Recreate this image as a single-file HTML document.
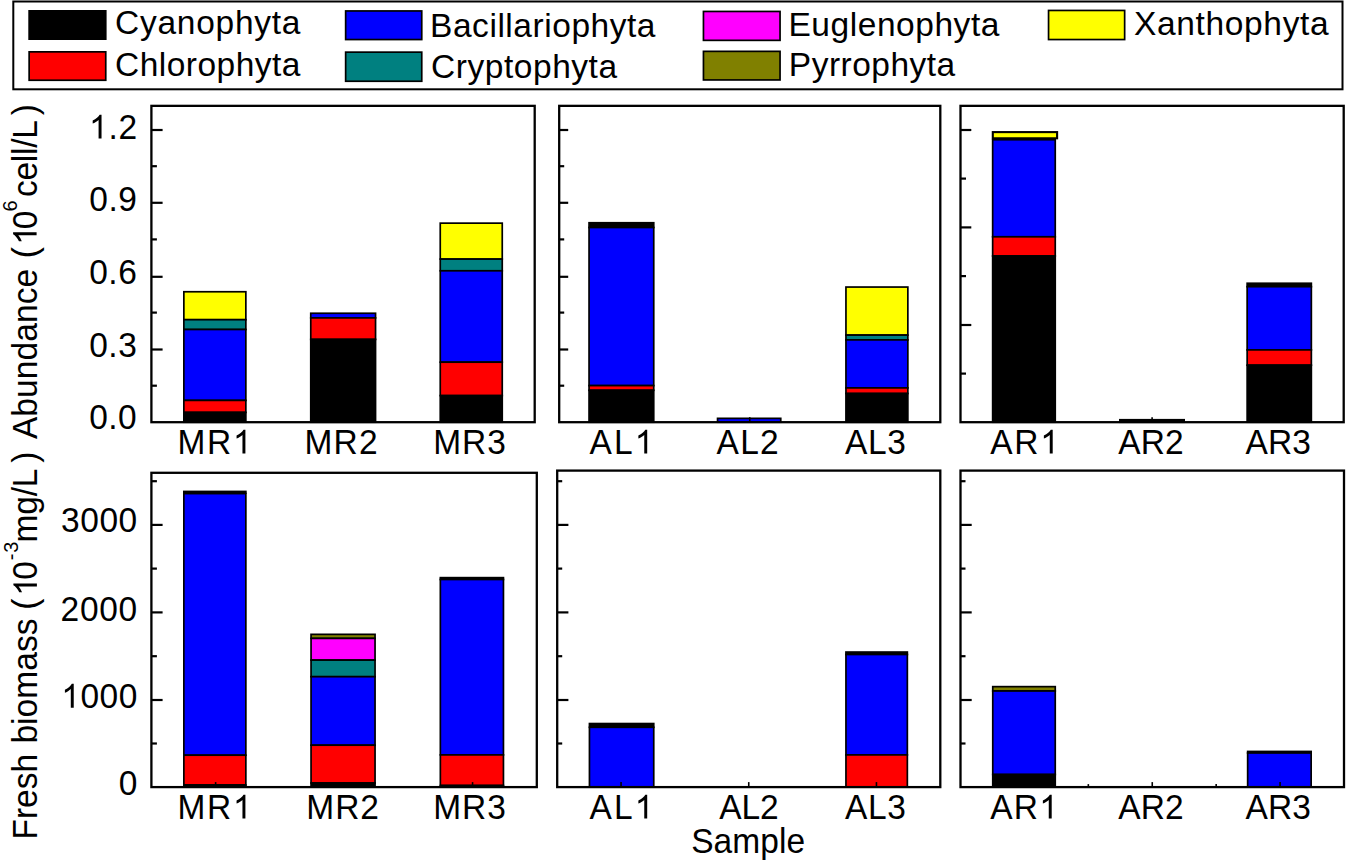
<!DOCTYPE html>
<html><head><meta charset="utf-8"><title>Phytoplankton abundance and biomass</title>
<style>
html,body{margin:0;padding:0;background:#fff;}
body{width:1346px;height:861px;overflow:hidden;}
svg{display:block;}
svg text{font-family:"Liberation Sans",sans-serif;fill:#000;font-kerning:none;}
</style></head>
<body>
<svg width="1346" height="861" viewBox="0 0 1346 861">
<rect x="0" y="0" width="1346" height="861" fill="#ffffff"/>
<rect x="13.30" y="1.50" width="1329.20" height="87.80" fill="#fff" stroke="#000" stroke-width="2.0"/>
<rect x="29.15" y="10.85" width="76.60" height="28.30" fill="#000000" stroke="#000" stroke-width="1.7"/>
<g transform="translate(0,34.40) scale(1,1.0)">
<text x="115.00 139.94 157.43 176.81 196.19 215.57 234.94 254.32 271.82 281.87" y="0" font-size="33.5">Cyanophyta</text>
</g>
<rect x="29.15" y="51.85" width="76.60" height="28.40" fill="#FF0000" stroke="#000" stroke-width="1.7"/>
<g transform="translate(0,76.40) scale(1,1.0)">
<text x="115.00 139.68 158.80 166.73 185.84 197.49 216.60 235.72 254.84 272.07 281.87" y="0" font-size="33.5">Chlorophyta</text>
</g>
<rect x="345.65" y="10.95" width="76.10" height="28.60" fill="#0000FF" stroke="#000" stroke-width="1.7"/>
<g transform="translate(0,37.00) scale(1,1.0)">
<text x="430.05 452.94 472.11 489.40 497.39 505.37 513.36 532.53 544.23 552.21 571.38 590.56 609.73 627.02 636.87" y="0" font-size="33.5">Bacillariophyta</text>
</g>
<rect x="345.65" y="52.15" width="76.10" height="29.10" fill="#008080" stroke="#000" stroke-width="1.7"/>
<g transform="translate(0,78.20) scale(1,1.0)">
<text x="431.00 455.74 467.44 484.74 503.92 513.78 532.96 552.14 571.32 588.61 598.47" y="0" font-size="33.5">Cryptophyta</text>
</g>
<rect x="703.45" y="11.45" width="76.60" height="28.90" fill="#FF00FF" stroke="#000" stroke-width="1.7"/>
<g transform="translate(0,36.10) scale(1,1.0)">
<text x="788.45 811.35 830.53 849.71 857.70 876.88 896.07 915.25 934.43 953.61 970.91 980.77" y="0" font-size="33.5">Euglenophyta</text>
</g>
<rect x="703.45" y="51.35" width="76.60" height="28.60" fill="#808000" stroke="#000" stroke-width="1.7"/>
<g transform="translate(0,75.50) scale(1,1.0)">
<text x="788.85 811.68 828.92 840.56 852.20 871.31 890.43 909.54 926.78 936.57" y="0" font-size="33.5">Pyrrophyta</text>
</g>
<rect x="1048.55" y="10.45" width="76.10" height="29.10" fill="#FFFF00" stroke="#000" stroke-width="1.7"/>
<g transform="translate(0,35.00) scale(1,1.0)">
<text x="1134.05 1157.03 1176.31 1195.58 1205.53 1224.81 1244.08 1263.35 1282.63 1300.02 1309.97" y="0" font-size="33.5">Xanthophyta</text>
</g>
<rect x="183.85" y="291.75" width="62.00" height="27.95" fill="#FFFF00" stroke="#000" stroke-width="1.7"/>
<rect x="183.85" y="319.70" width="62.00" height="9.80" fill="#008080" stroke="#000" stroke-width="1.7"/>
<rect x="183.85" y="329.50" width="62.00" height="70.90" fill="#0000FF" stroke="#000" stroke-width="1.7"/>
<rect x="183.85" y="400.40" width="62.00" height="12.00" fill="#FF0000" stroke="#000" stroke-width="1.7"/>
<rect x="183.85" y="412.40" width="62.00" height="9.80" fill="#000000" stroke="#000" stroke-width="1.7"/>
<rect x="310.75" y="313.25" width="64.80" height="4.65" fill="#0000FF" stroke="#000" stroke-width="1.7"/>
<rect x="310.75" y="317.90" width="64.80" height="21.50" fill="#FF0000" stroke="#000" stroke-width="1.7"/>
<rect x="310.75" y="339.40" width="64.80" height="82.80" fill="#000000" stroke="#000" stroke-width="1.7"/>
<rect x="440.25" y="223.15" width="62.00" height="35.95" fill="#FFFF00" stroke="#000" stroke-width="1.7"/>
<rect x="440.25" y="259.10" width="62.00" height="11.70" fill="#008080" stroke="#000" stroke-width="1.7"/>
<rect x="440.25" y="270.80" width="62.00" height="91.40" fill="#0000FF" stroke="#000" stroke-width="1.7"/>
<rect x="440.25" y="362.20" width="62.00" height="33.40" fill="#FF0000" stroke="#000" stroke-width="1.7"/>
<rect x="440.25" y="395.60" width="62.00" height="26.60" fill="#000000" stroke="#000" stroke-width="1.7"/>
<rect x="151.40" y="105.85" width="383.30" height="316.35" fill="none" stroke="#000" stroke-width="2.3"/>
<line x1="151.40" y1="130.00" x2="162.60" y2="130.00" stroke="#000" stroke-width="2.2"/>
<line x1="151.40" y1="202.80" x2="162.60" y2="202.80" stroke="#000" stroke-width="2.2"/>
<line x1="151.40" y1="276.80" x2="162.60" y2="276.80" stroke="#000" stroke-width="2.2"/>
<line x1="151.40" y1="349.50" x2="162.60" y2="349.50" stroke="#000" stroke-width="2.2"/>
<line x1="151.40" y1="166.20" x2="156.90" y2="166.20" stroke="#000" stroke-width="2.2"/>
<line x1="151.40" y1="239.40" x2="156.90" y2="239.40" stroke="#000" stroke-width="2.2"/>
<line x1="151.40" y1="312.60" x2="156.90" y2="312.60" stroke="#000" stroke-width="2.2"/>
<line x1="151.40" y1="385.70" x2="156.90" y2="385.70" stroke="#000" stroke-width="2.2"/>
<line x1="215.28" y1="422.20" x2="215.28" y2="417.20" stroke="#000" stroke-width="1.6"/>
<line x1="343.05" y1="422.20" x2="343.05" y2="417.20" stroke="#000" stroke-width="1.6"/>
<line x1="470.82" y1="422.20" x2="470.82" y2="417.20" stroke="#000" stroke-width="1.6"/>
<rect x="589.05" y="222.75" width="64.70" height="4.75" fill="#000000" stroke="#000" stroke-width="1.7"/>
<rect x="589.05" y="227.50" width="64.70" height="158.10" fill="#0000FF" stroke="#000" stroke-width="1.7"/>
<rect x="589.05" y="385.60" width="64.70" height="4.70" fill="#FF0000" stroke="#000" stroke-width="1.7"/>
<rect x="589.05" y="390.30" width="64.70" height="31.90" fill="#000000" stroke="#000" stroke-width="1.7"/>
<rect x="717.55" y="418.35" width="63.20" height="3.85" fill="#0000FF" stroke="#000" stroke-width="1.7"/>
<rect x="845.95" y="287.05" width="61.90" height="48.05" fill="#FFFF00" stroke="#000" stroke-width="1.7"/>
<rect x="845.95" y="335.10" width="61.90" height="4.80" fill="#008080" stroke="#000" stroke-width="1.7"/>
<rect x="845.95" y="339.90" width="61.90" height="48.00" fill="#0000FF" stroke="#000" stroke-width="1.7"/>
<rect x="845.95" y="387.90" width="61.90" height="5.60" fill="#FF0000" stroke="#000" stroke-width="1.7"/>
<rect x="845.95" y="393.50" width="61.90" height="28.70" fill="#000000" stroke="#000" stroke-width="1.7"/>
<rect x="559.20" y="105.85" width="381.10" height="316.35" fill="none" stroke="#000" stroke-width="2.3"/>
<line x1="559.20" y1="130.00" x2="568.20" y2="130.00" stroke="#000" stroke-width="2.2"/>
<line x1="559.20" y1="202.80" x2="568.20" y2="202.80" stroke="#000" stroke-width="2.2"/>
<line x1="559.20" y1="276.80" x2="568.20" y2="276.80" stroke="#000" stroke-width="2.2"/>
<line x1="559.20" y1="349.50" x2="568.20" y2="349.50" stroke="#000" stroke-width="2.2"/>
<line x1="559.20" y1="166.20" x2="564.20" y2="166.20" stroke="#000" stroke-width="2.2"/>
<line x1="559.20" y1="239.40" x2="564.20" y2="239.40" stroke="#000" stroke-width="2.2"/>
<line x1="559.20" y1="312.60" x2="564.20" y2="312.60" stroke="#000" stroke-width="2.2"/>
<line x1="559.20" y1="385.70" x2="564.20" y2="385.70" stroke="#000" stroke-width="2.2"/>
<line x1="622.72" y1="422.20" x2="622.72" y2="417.20" stroke="#000" stroke-width="1.6"/>
<line x1="749.75" y1="422.20" x2="749.75" y2="417.20" stroke="#000" stroke-width="1.6"/>
<line x1="876.78" y1="422.20" x2="876.78" y2="417.20" stroke="#000" stroke-width="1.6"/>
<rect x="992.65" y="139.75" width="62.60" height="97.05" fill="#0000FF" stroke="#000" stroke-width="1.7"/>
<rect x="992.65" y="236.80" width="62.60" height="19.20" fill="#FF0000" stroke="#000" stroke-width="1.7"/>
<rect x="992.65" y="256.00" width="62.60" height="166.20" fill="#000000" stroke="#000" stroke-width="1.7"/>
<rect x="1119.85" y="419.75" width="64.30" height="2.45" fill="#000000" stroke="#000" stroke-width="1.7"/>
<rect x="1247.15" y="283.25" width="64.20" height="3.45" fill="#000000" stroke="#000" stroke-width="1.7"/>
<rect x="1247.15" y="286.70" width="64.20" height="63.20" fill="#0000FF" stroke="#000" stroke-width="1.7"/>
<rect x="1247.15" y="349.90" width="64.20" height="15.30" fill="#FF0000" stroke="#000" stroke-width="1.7"/>
<rect x="1247.15" y="365.20" width="64.20" height="57.00" fill="#000000" stroke="#000" stroke-width="1.7"/>
<rect x="960.50" y="105.85" width="383.20" height="316.35" fill="none" stroke="#000" stroke-width="2.3"/>
<line x1="960.50" y1="130.00" x2="971.30" y2="130.00" stroke="#000" stroke-width="2.2"/>
<line x1="960.50" y1="227.40" x2="971.30" y2="227.40" stroke="#000" stroke-width="2.2"/>
<line x1="960.50" y1="325.00" x2="971.30" y2="325.00" stroke="#000" stroke-width="2.2"/>
<line x1="960.50" y1="178.60" x2="966.00" y2="178.60" stroke="#000" stroke-width="2.2"/>
<line x1="960.50" y1="276.10" x2="966.00" y2="276.10" stroke="#000" stroke-width="2.2"/>
<line x1="960.50" y1="373.60" x2="966.00" y2="373.60" stroke="#000" stroke-width="2.2"/>
<line x1="1024.37" y1="422.20" x2="1024.37" y2="417.20" stroke="#000" stroke-width="1.6"/>
<line x1="1152.10" y1="422.20" x2="1152.10" y2="417.20" stroke="#000" stroke-width="1.6"/>
<line x1="1279.83" y1="422.20" x2="1279.83" y2="417.20" stroke="#000" stroke-width="1.6"/>
<rect x="992.80" y="132.10" width="64.30" height="6.20" fill="#FFFF00" stroke="#000" stroke-width="2.1"/>
<rect x="183.85" y="491.45" width="62.00" height="1.55" fill="#000000" stroke="#000" stroke-width="1.7"/>
<rect x="183.85" y="493.60" width="62.00" height="261.60" fill="#0000FF" stroke="#000" stroke-width="1.7"/>
<rect x="183.85" y="755.20" width="62.00" height="29.80" fill="#FF0000" stroke="#000" stroke-width="1.7"/>
<rect x="183.85" y="785.00" width="62.00" height="2.10" fill="#000000" stroke="#000" stroke-width="1.7"/>
<rect x="311.05" y="634.35" width="64.00" height="4.05" fill="#808000" stroke="#000" stroke-width="1.7"/>
<rect x="311.05" y="638.40" width="64.00" height="21.70" fill="#FF00FF" stroke="#000" stroke-width="1.7"/>
<rect x="311.05" y="660.10" width="64.00" height="16.60" fill="#008080" stroke="#000" stroke-width="1.7"/>
<rect x="311.05" y="676.70" width="64.00" height="68.50" fill="#0000FF" stroke="#000" stroke-width="1.7"/>
<rect x="311.05" y="745.20" width="64.00" height="37.80" fill="#FF0000" stroke="#000" stroke-width="1.7"/>
<rect x="311.05" y="783.00" width="64.00" height="4.10" fill="#000000" stroke="#000" stroke-width="1.7"/>
<rect x="440.35" y="577.65" width="63.10" height="1.85" fill="#000000" stroke="#000" stroke-width="1.7"/>
<rect x="440.35" y="579.50" width="63.10" height="175.40" fill="#0000FF" stroke="#000" stroke-width="1.7"/>
<rect x="440.35" y="754.90" width="63.10" height="30.60" fill="#FF0000" stroke="#000" stroke-width="1.7"/>
<rect x="440.35" y="785.50" width="63.10" height="1.60" fill="#000000" stroke="#000" stroke-width="1.7"/>
<rect x="151.40" y="472.80" width="385.40" height="314.30" fill="none" stroke="#000" stroke-width="2.3"/>
<line x1="151.40" y1="524.90" x2="162.60" y2="524.90" stroke="#000" stroke-width="2.2"/>
<line x1="151.40" y1="612.40" x2="162.60" y2="612.40" stroke="#000" stroke-width="2.2"/>
<line x1="151.40" y1="700.00" x2="162.60" y2="700.00" stroke="#000" stroke-width="2.2"/>
<line x1="151.40" y1="481.20" x2="156.90" y2="481.20" stroke="#000" stroke-width="2.2"/>
<line x1="151.40" y1="568.60" x2="156.90" y2="568.60" stroke="#000" stroke-width="2.2"/>
<line x1="151.40" y1="656.20" x2="156.90" y2="656.20" stroke="#000" stroke-width="2.2"/>
<line x1="151.40" y1="743.50" x2="156.90" y2="743.50" stroke="#000" stroke-width="2.2"/>
<line x1="215.63" y1="787.10" x2="215.63" y2="782.10" stroke="#000" stroke-width="1.6"/>
<line x1="344.10" y1="787.10" x2="344.10" y2="782.10" stroke="#000" stroke-width="1.6"/>
<line x1="472.57" y1="787.10" x2="472.57" y2="782.10" stroke="#000" stroke-width="1.6"/>
<rect x="589.45" y="723.55" width="64.30" height="3.75" fill="#000000" stroke="#000" stroke-width="1.7"/>
<rect x="589.45" y="727.30" width="64.30" height="59.80" fill="#0000FF" stroke="#000" stroke-width="1.7"/>
<rect x="845.95" y="652.05" width="61.40" height="2.45" fill="#000000" stroke="#000" stroke-width="1.7"/>
<rect x="845.95" y="654.50" width="61.40" height="100.40" fill="#0000FF" stroke="#000" stroke-width="1.7"/>
<rect x="845.95" y="754.90" width="61.40" height="32.20" fill="#FF0000" stroke="#000" stroke-width="1.7"/>
<rect x="557.20" y="470.60" width="383.10" height="316.50" fill="none" stroke="#000" stroke-width="2.3"/>
<line x1="557.20" y1="524.90" x2="568.40" y2="524.90" stroke="#000" stroke-width="2.2"/>
<line x1="557.20" y1="612.40" x2="568.40" y2="612.40" stroke="#000" stroke-width="2.2"/>
<line x1="557.20" y1="700.00" x2="568.40" y2="700.00" stroke="#000" stroke-width="2.2"/>
<line x1="557.20" y1="481.20" x2="562.20" y2="481.20" stroke="#000" stroke-width="2.2"/>
<line x1="557.20" y1="568.60" x2="562.20" y2="568.60" stroke="#000" stroke-width="2.2"/>
<line x1="557.20" y1="656.20" x2="562.20" y2="656.20" stroke="#000" stroke-width="2.2"/>
<line x1="557.20" y1="743.50" x2="562.20" y2="743.50" stroke="#000" stroke-width="2.2"/>
<line x1="621.05" y1="787.10" x2="621.05" y2="782.10" stroke="#000" stroke-width="1.6"/>
<line x1="748.75" y1="787.10" x2="748.75" y2="782.10" stroke="#000" stroke-width="1.6"/>
<line x1="876.45" y1="787.10" x2="876.45" y2="782.10" stroke="#000" stroke-width="1.6"/>
<rect x="992.75" y="686.65" width="62.50" height="4.35" fill="#808000" stroke="#000" stroke-width="1.7"/>
<rect x="992.75" y="691.00" width="62.50" height="83.50" fill="#0000FF" stroke="#000" stroke-width="1.7"/>
<rect x="992.75" y="774.50" width="62.50" height="12.60" fill="#000000" stroke="#000" stroke-width="1.7"/>
<rect x="1247.65" y="751.45" width="63.50" height="1.55" fill="#000000" stroke="#000" stroke-width="1.7"/>
<rect x="1247.65" y="753.00" width="63.50" height="34.10" fill="#0000FF" stroke="#000" stroke-width="1.7"/>
<rect x="960.50" y="470.60" width="383.50" height="316.50" fill="none" stroke="#000" stroke-width="2.3"/>
<line x1="960.50" y1="524.90" x2="971.70" y2="524.90" stroke="#000" stroke-width="2.2"/>
<line x1="960.50" y1="612.40" x2="971.70" y2="612.40" stroke="#000" stroke-width="2.2"/>
<line x1="960.50" y1="700.00" x2="971.70" y2="700.00" stroke="#000" stroke-width="2.2"/>
<line x1="960.50" y1="481.20" x2="965.50" y2="481.20" stroke="#000" stroke-width="2.2"/>
<line x1="960.50" y1="568.60" x2="965.50" y2="568.60" stroke="#000" stroke-width="2.2"/>
<line x1="960.50" y1="656.20" x2="965.50" y2="656.20" stroke="#000" stroke-width="2.2"/>
<line x1="960.50" y1="743.50" x2="965.50" y2="743.50" stroke="#000" stroke-width="2.2"/>
<line x1="1024.42" y1="787.10" x2="1024.42" y2="782.10" stroke="#000" stroke-width="1.6"/>
<line x1="1152.25" y1="787.10" x2="1152.25" y2="782.10" stroke="#000" stroke-width="1.6"/>
<line x1="1280.08" y1="787.10" x2="1280.08" y2="782.10" stroke="#000" stroke-width="1.6"/>
<line x1="1088.33" y1="787.10" x2="1088.33" y2="784.10" stroke="#000" stroke-width="1.6"/>
<line x1="1216.17" y1="787.10" x2="1216.17" y2="784.10" stroke="#000" stroke-width="1.6"/>
<g transform="translate(0,138.60) scale(1,1.04)">
<text x="108.46 118.55" y="0" font-size="33.5">.2</text>
<path d="M763 0H583V1147Q518 1085 413 1023T223 930V1104Q374 1175 487 1276T647 1472H763Z" transform="translate(89.05,0) scale(0.01636,-0.01566)"/>
</g>
<g transform="translate(0,211.30) scale(1,1.04)">
<text x="89.29 108.44 118.26" y="0" font-size="33.5">0.9</text>
</g>
<g transform="translate(0,284.20) scale(1,1.04)">
<text x="89.29 108.38 118.14" y="0" font-size="33.5">0.6</text>
</g>
<g transform="translate(0,356.60) scale(1,1.04)">
<text x="89.29 108.38 118.14" y="0" font-size="33.5">0.3</text>
</g>
<g transform="translate(0,428.70) scale(1,1.04)">
<text x="89.29 108.30 117.98" y="0" font-size="33.5">0.0</text>
</g>
<g transform="translate(0,532.00) scale(1,1.04)">
<text x="61.02 80.21 99.39 118.58" y="0" font-size="33.5">3000</text>
</g>
<g transform="translate(0,620.80) scale(1,1.04)">
<text x="60.62 79.94 99.26 118.58" y="0" font-size="33.5">2000</text>
</g>
<g transform="translate(0,707.80) scale(1,1.04)">
<text x="80.39 99.54 118.68" y="0" font-size="33.5">000</text>
<path d="M763 0H583V1147Q518 1085 413 1023T223 930V1104Q374 1175 487 1276T647 1472H763Z" transform="translate(61.25,0) scale(0.01636,-0.01566)"/>
</g>
<text x="137.31" y="0" font-size="33.5" text-anchor="end" transform="translate(0,795.1) scale(1,1.04)">0</text>
<g transform="translate(0,453.60) scale(1,1.04)">
<text x="177.45 207.04" y="0" font-size="33.5">MR</text>
<path d="M763 0H583V1147Q518 1085 413 1023T223 930V1104Q374 1175 487 1276T647 1472H763Z" transform="translate(232.92,0) scale(0.01636,-0.01566)"/>
</g>
<g transform="translate(0,453.60) scale(1,1.04)">
<text x="304.45 333.56 358.95" y="0" font-size="33.5">MR2</text>
</g>
<g transform="translate(0,453.60) scale(1,1.04)">
<text x="433.35 462.10 487.14" y="0" font-size="33.5">MR3</text>
</g>
<g transform="translate(0,453.60) scale(1,1.04)">
<text x="589.63 614.03" y="0" font-size="33.5">AL</text>
<path d="M763 0H583V1147Q518 1085 413 1023T223 930V1104Q374 1175 487 1276T647 1472H763Z" transform="translate(634.72,0) scale(0.01636,-0.01566)"/>
</g>
<g transform="translate(0,453.60) scale(1,1.04)">
<text x="716.63 740.15 759.95" y="0" font-size="33.5">AL2</text>
</g>
<g transform="translate(0,453.60) scale(1,1.04)">
<text x="845.03 868.04 887.34" y="0" font-size="33.5">AL3</text>
</g>
<g transform="translate(0,453.60) scale(1,1.04)">
<text x="990.13 1014.25" y="0" font-size="33.5">AR</text>
<path d="M763 0H583V1147Q518 1085 413 1023T223 930V1104Q374 1175 487 1276T647 1472H763Z" transform="translate(1040.22,0) scale(0.01636,-0.01566)"/>
</g>
<g transform="translate(0,453.60) scale(1,1.04)">
<text x="1118.23 1140.67 1164.95" y="0" font-size="33.5">AR2</text>
</g>
<g transform="translate(0,453.60) scale(1,1.04)">
<text x="1245.53 1268.01 1292.34" y="0" font-size="33.5">AR3</text>
</g>
<g transform="translate(0,818.60) scale(1,1.04)">
<text x="177.45 207.04" y="0" font-size="33.5">MR</text>
<path d="M763 0H583V1147Q518 1085 413 1023T223 930V1104Q374 1175 487 1276T647 1472H763Z" transform="translate(232.92,0) scale(0.01636,-0.01566)"/>
</g>
<g transform="translate(0,818.60) scale(1,1.04)">
<text x="306.35 335.21 360.35" y="0" font-size="33.5">MR2</text>
</g>
<g transform="translate(0,818.60) scale(1,1.04)">
<text x="433.35 462.10 487.14" y="0" font-size="33.5">MR3</text>
</g>
<g transform="translate(0,818.60) scale(1,1.04)">
<text x="589.63 614.03" y="0" font-size="33.5">AL</text>
<path d="M763 0H583V1147Q518 1085 413 1023T223 930V1104Q374 1175 487 1276T647 1472H763Z" transform="translate(634.72,0) scale(0.01636,-0.01566)"/>
</g>
<g transform="translate(0,818.60) scale(1,1.04)">
<text x="719.33 741.50 759.95" y="0" font-size="33.5">AL2</text>
</g>
<g transform="translate(0,818.60) scale(1,1.04)">
<text x="845.03 868.04 887.34" y="0" font-size="33.5">AL3</text>
</g>
<g transform="translate(0,818.60) scale(1,1.04)">
<text x="990.13 1013.75" y="0" font-size="33.5">AR</text>
<path d="M763 0H583V1147Q518 1085 413 1023T223 930V1104Q374 1175 487 1276T647 1472H763Z" transform="translate(1039.22,0) scale(0.01636,-0.01566)"/>
</g>
<g transform="translate(0,818.60) scale(1,1.04)">
<text x="1118.23 1140.67 1164.95" y="0" font-size="33.5">AR2</text>
</g>
<g transform="translate(0,818.60) scale(1,1.04)">
<text x="1245.53 1268.01 1292.34" y="0" font-size="33.5">AR3</text>
</g>
<g transform="translate(0,852.60) scale(1,1.02)">
<text x="691.18 713.61 732.32 760.31 779.03 786.56" y="0" font-size="33.5">Sample</text>
</g>
<g transform="translate(36.60,0) rotate(-90) scale(1,1.02)">
<text x="-439.07 -416.63 -397.90 -379.18 -360.46 -341.73 -323.01 -304.29 -287.44" y="0" font-size="33.5">Abundance</text>
</g>
<g transform="translate(36.60,0) rotate(-90) scale(1,1.02)">
<text x="-258.38" y="0" font-size="33.5">(</text>
</g>
<g transform="translate(36.60,0) rotate(-90) scale(1,1.02)">
<text x="-229.22" y="0" font-size="33.5">0</text>
<path d="M763 0H583V1147Q518 1085 413 1023T223 930V1104Q374 1175 487 1276T647 1472H763Z" transform="translate(-244.85,0) scale(0.01636,-0.01566)"/>
</g>
<g transform="translate(17.20,0) rotate(-90) scale(1,1.02)">
<text x="-211.62" y="0" font-size="20">6</text>
</g>
<g transform="translate(36.60,0) rotate(-90) scale(1,1.02)">
<text x="-197.02 -180.55 -162.19 -155.02 -147.85 -138.82" y="0" font-size="33.5">cell/L</text>
</g>
<g transform="translate(36.60,0) rotate(-90) scale(1,1.02)">
<text x="-115.20" y="0" font-size="33.5">)</text>
</g>
<g transform="translate(36.90,0) rotate(-90) scale(1,1.02)">
<text x="-839.55 -819.09 -807.93 -789.30 -772.56" y="0" font-size="33.5">Fresh</text>
</g>
<g transform="translate(36.90,0) rotate(-90) scale(1,1.02)">
<text x="-743.56 -724.89 -717.41 -698.74 -670.80 -652.13 -635.34" y="0" font-size="33.5">biomass</text>
</g>
<g transform="translate(36.90,0) rotate(-90) scale(1,1.02)">
<text x="-609.68" y="0" font-size="33.5">(</text>
</g>
<g transform="translate(36.90,0) rotate(-90) scale(1,1.02)">
<text x="-579.82" y="0" font-size="33.5">0</text>
<path d="M763 0H583V1147Q518 1085 413 1023T223 930V1104Q374 1175 487 1276T647 1472H763Z" transform="translate(-595.95,0) scale(0.01636,-0.01566)"/>
</g>
<g transform="translate(17.80,0) rotate(-90) scale(1,1.02)">
<text x="-560.19 -552.74" y="0" font-size="20">-3</text>
</g>
<g transform="translate(36.90,0) rotate(-90) scale(1,1.02)">
<text x="-542.52 -514.80 -496.35 -487.22" y="0" font-size="33.5">mg/L</text>
</g>
<g transform="translate(36.90,0) rotate(-90) scale(1,1.02)">
<text x="-462.70" y="0" font-size="33.5">)</text>
</g>
</svg>
</body></html>
